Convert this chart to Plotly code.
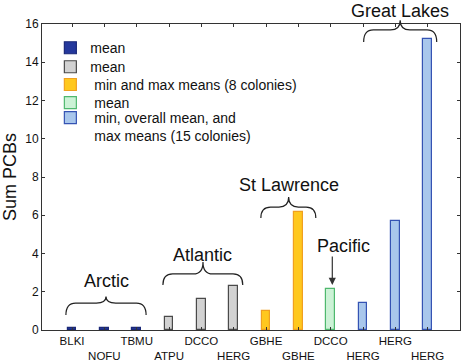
import plotly.graph_objects as go

# ---- data ----
categories = ["BLKI", "NOFU", "TBMU", "ATPU", "DCCO", "HERG",
              "GBHE", "GBHE", "DCCO", "HERG", "HERG", "HERG"]
positions = list(range(1, 13))

arctic_vals = [0.13, 0.13, 0.10]
atlantic_vals = [0.67, 1.60, 2.30]
stlaw_vals = [0.97, 6.19]
pacific_vals = [2.12]
greatlakes_vals = [1.43, 5.68, 15.22]

legend_labels = ["mean", "mean", "\u00a0min and max means (8 colonies)", "\u00a0mean",
                 "\u00a0min, overall mean, and<br>\u00a0max means (15 colonies)"]

# region labels with brace extents (x in category units, y in data units)
regions = [
    # name, x0, x1, xc, y_end, y_flat, y_peak, y_text
    ("Arctic", 0.81, 3.29, 2.05, 0.78, 1.41, 1.75, 2.56),
    ("Atlantic", 3.81, 6.28, 5.05, 2.35, 2.93, 3.56, 3.92),
    ("St Lawrence", 6.84, 8.54, 7.70, 5.86, 6.43, 6.95, 7.58),
    ("Great Lakes", 10.02, 12.28, 11.15, 15.06, 15.69, 16.20, 16.68),
]
pacific_label = ("Pacific", 9.4, 4.39)
pacific_arrow = (9.05, 2.35, 3.92)

YMAX = 16
FONT = "Liberation Sans, Arial, sans-serif"

groups = [
    (positions[0:3], arctic_vals, "#24389c", "#1a2878"),
    (positions[3:6], atlantic_vals, "#d2d2d2", "#4a4a4a"),
    (positions[6:8], stlaw_vals, "#ffc81e", "#f0a020"),
    (positions[8:9], pacific_vals, "#ccf2d6", "#4fb86e"),
    (positions[9:12], greatlakes_vals, "#a9c7ec", "#3553b3"),
]
# vertical centre of each legend entry (paper coords)
legend_y = [0.921, 0.859, 0.801, 0.742, 0.663]

fig = go.Figure()
legend_names = ["legend"] + [f"legend{i}" for i in range(2, 6)]
for (xs, ys, fill, edge), lab, lg in zip(groups, legend_labels, legend_names):
    fig.add_trace(go.Bar(x=xs, y=ys, name=lab, width=0.27, legend=lg,
                         marker=dict(color=fill, line=dict(color=edge, width=1.2))))

def brace_path(x0, x1, xc, yb, yf, yp, r=0.3):
    p = lambda v: v / YMAX
    return (f"M {x0},{p(yb)} Q {x0},{p(yf)} {x0 + r},{p(yf)} "
            f"L {xc - r},{p(yf)} Q {xc},{p(yf)} {xc},{p(yp)} "
            f"Q {xc},{p(yf)} {xc + r},{p(yf)} "
            f"L {x1 - r},{p(yf)} Q {x1},{p(yf)} {x1},{p(yb)}")

shapes = []
annotations = []
for name, x0, x1, xc, yb, yf, yp, yt in regions:
    shapes.append(dict(type="path", xref="x", yref="paper",
                       path=brace_path(x0, x1, xc, yb, yf, yp),
                       line=dict(color="#222", width=1.2)))
    annotations.append(dict(x=xc, y=yt / YMAX, xref="x", yref="paper", text=name,
                            showarrow=False, font=dict(family=FONT, size=18, color="#111"),
                            xanchor="center", yanchor="middle"))

annotations.append(dict(x=pacific_label[1], y=pacific_label[2], xref="x", yref="y",
                        text=pacific_label[0], showarrow=False,
                        font=dict(family=FONT, size=18, color="#111")))
annotations.append(dict(x=pacific_arrow[0], y=pacific_arrow[1], ax=pacific_arrow[0],
                        ay=pacific_arrow[2], xref="x", yref="y", axref="x", ayref="y",
                        text="", showarrow=True, arrowhead=2, arrowsize=1.2,
                        arrowwidth=1.2, arrowcolor="#333"))

ticktext = [c if i % 2 == 0 else "<br>" + c for i, c in enumerate(categories)]

legend_style = dict(x=0.02, xanchor="left", yanchor="middle",
                    font=dict(family=FONT, size=14, color="#111"),
                    bgcolor="rgba(0,0,0,0)", valign="top", itemwidth=30)
legends = {lg: dict(legend_style, y=yy) for lg, yy in zip(legend_names, legend_y)}

fig.update_layout(
    width=462, height=363,
    margin=dict(l=42, r=2, t=24, b=33),
    plot_bgcolor="white", paper_bgcolor="white",
    font=dict(family=FONT, color="#222"),
    bargap=0,
    showlegend=True,
    shapes=shapes,
    annotations=annotations,
    xaxis=dict(range=[0.07, 13], tickmode="array", tickvals=positions, ticktext=ticktext,
               tickangle=0, automargin=False,
               ticks="inside", ticklen=3, tickcolor="#333", showline=True,
               linecolor="#333", linewidth=1, mirror="ticks", showgrid=False,
               zeroline=False, tickfont=dict(family=FONT, size=11.5, color="#111")),
    yaxis=dict(range=[0, YMAX], dtick=2, ticks="inside", ticklen=3, tickcolor="#333",
               automargin=False,
               showline=True, linecolor="#333", linewidth=1, mirror="ticks",
               showgrid=False, zeroline=False,
               tickfont=dict(family=FONT, size=12, color="#111"),
               title=dict(text="Sum PCBs", font=dict(family=FONT, size=18, color="#111"),
                          standoff=3)),
    **legends,
)

fig.write_html("out.html", post_script="document.body.style.margin='0';",
               config={"displayModeBar": False})
